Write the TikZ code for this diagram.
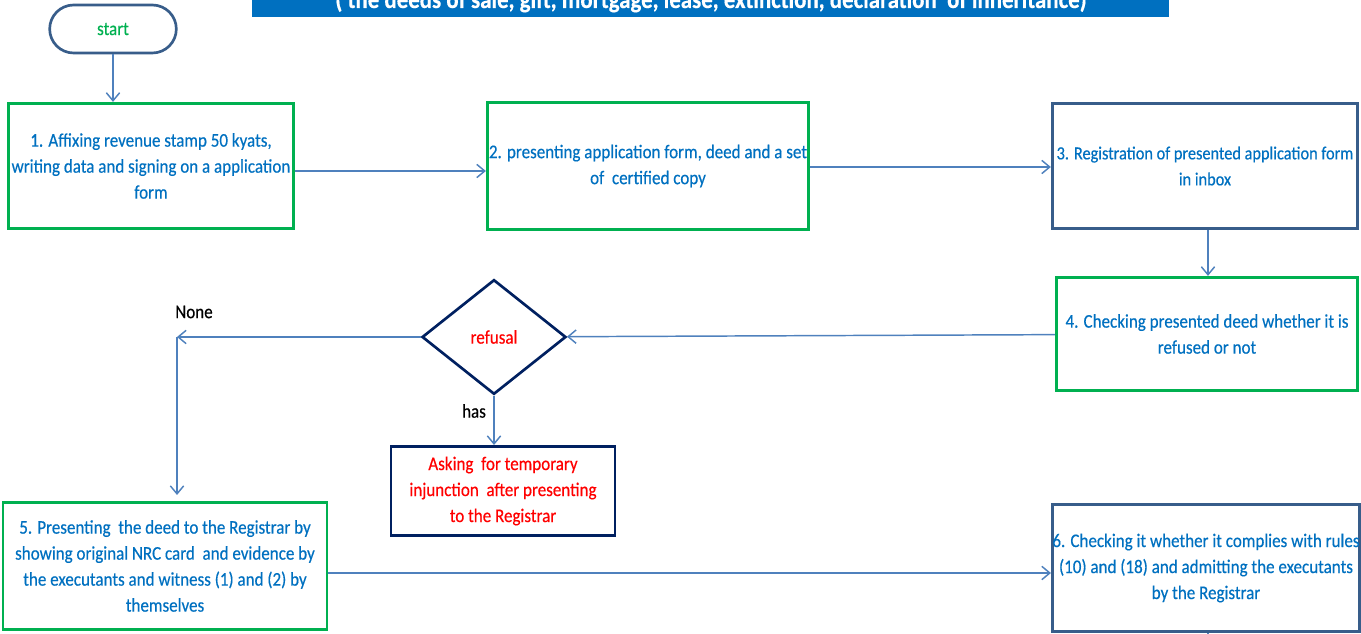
\documentclass[tikz,border=0pt]{standalone}
\usepackage{fontspec}
\setmainfont{Carlito}
\newfontfamily\flowfamily[FakeStretch=0.88,FakeBold=0.4]{Carlito}
\usetikzlibrary{shapes.geometric,arrows.meta}
\definecolor{boxgreen}{HTML}{00B050}
\definecolor{textblue}{HTML}{0070C0}
\definecolor{linkblue}{HTML}{4F81BD}
\definecolor{edgeblue}{HTML}{385D8A}
\definecolor{navy}{HTML}{002060}
\newcommand{\flowfont}{\flowfamily\fontsize{14.5pt}{19.5pt}\selectfont}
\tikzset{
  greenbox/.style={draw=boxgreen, line width=2.2pt, align=center, text=textblue, font=\flowfont, inner sep=1pt},
  greybox/.style={draw=edgeblue, line width=2.2pt, align=center, text=textblue, font=\flowfont, inner sep=0pt},
  navybox/.style={draw=navy, line width=2pt, align=center, text=red, font=\flowfont, inner sep=1pt},
  flow/.style={draw=linkblue, line width=1.1pt, -{Straight Barb[length=6pt,width=10pt]}},
  flowline/.style={draw=linkblue, line width=1.1pt}
}
\begin{document}
\begin{tikzpicture}[x=0.75pt,y=-0.75pt]
\useasboundingbox (0,0) rectangle (1361,634);
% heading banner
\fill [textblue] (252,0) rectangle (1169,17);
\node (title) [anchor=base, text=white, font=\flowfamily\bfseries\fontsize{19.5pt}{22pt}\selectfont] at (711,8) {( the deeds of sale, gift, mortgage, lease, extinction, declaration~ of inheritance)};
% steps
\node (start) [draw=edgeblue, line width=2pt, rounded corners=18pt, minimum width=95pt, minimum height=36pt, text=boxgreen, font=\flowfont] at (113,29) {start};
\node (s1) [greenbox, minimum width=214pt, minimum height=94pt] at (151,166) {1. Affixing revenue stamp 50 kyats,\\writing data and signing on a application\\form};
\node (s2) [greenbox, minimum width=241pt, minimum height=95pt] at (648,166) {2. presenting application form, deed and a set\\of~ certified copy};
\node (s3) [greybox, minimum width=229pt, minimum height=94pt, font=\flowfamily\fontsize{13.9pt}{19.5pt}\selectfont] at (1205,166) {3. Registration of presented application form\\in inbox};
\node (s4) [greenbox, minimum width=226pt, minimum height=85pt] at (1207,334) {4. Checking presented deed whether it is\\refused or not};
\node (refusal) [diamond, draw=navy, line width=2pt, minimum width=108pt, minimum height=86pt, inner sep=0pt, text=red, font=\flowfont] at (494,337) {refusal};
\node (ask) [navybox, minimum width=168pt, minimum height=67pt] at (503,491) {Asking~ for temporary\\injunction~ after presenting\\to the Registrar};
\node (s5) [greenbox, minimum width=243pt, minimum height=95pt] at (165,566) {5. Presenting~ the deed to the Registrar by\\showing original NRC card~ and evidence by\\the executants and witness (1) and (2) by\\themselves};
\node (s6) [greybox, minimum width=229pt, minimum height=95pt] at (1206,568) {6. Checking it whether it complies with rules\\(10) and (18) and admitting the executants\\by the Registrar};
% labels
\node (none) [font=\flowfont] at (194,312) {None};
\node (has) [font=\flowfont] at (474,411) {has};
\coordinate (turn) at (177,337);
\coordinate (down) at (177,495);
\coordinate (out) at (1208,650);
% connectors
\draw [flow] (start) -- (s1.north -| start);
\draw [flow] (s1.east |- 0,171) -- (s2.west |- 0,171);
\draw [flow] (s2.east |- 0,167) -- (s3.west |- 0,167);
\draw [flow] (s3.south -| out) -- (s4.north -| out);
\draw [flow] (s4) -- (refusal);
\draw [flow] (refusal) -- (turn);
\draw [flow] (turn) -- (down);
\draw [flow] (refusal) -- (ask.north -| refusal);
\draw [flow] (s5.east |- 0,573) -- (s6.west |- 0,573);
\draw [flowline] (s6.south -| out) -- (out);
\end{tikzpicture}
\end{document}
